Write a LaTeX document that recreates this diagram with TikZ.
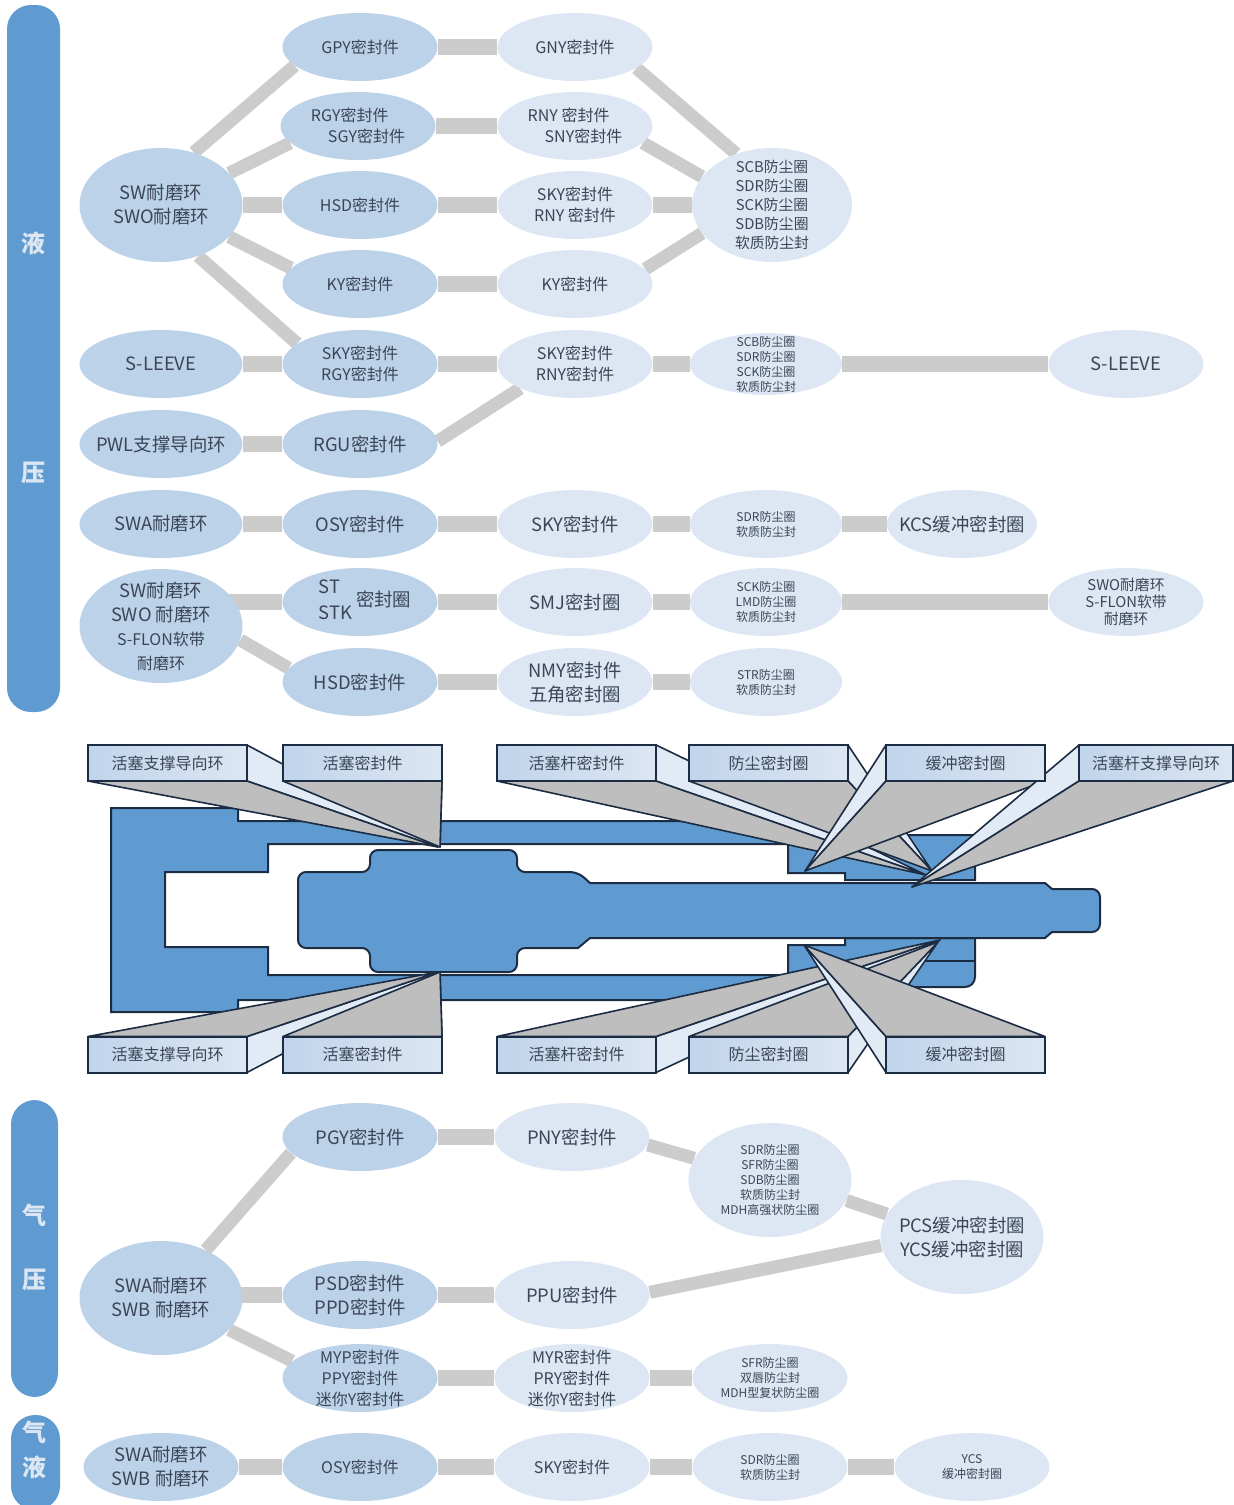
\documentclass[tikz,border=0pt]{standalone}
\usepackage{fontspec}
\setmainfont{Noto Sans CJK SC}
\usepackage{tikz}
\usetikzlibrary{shapes.geometric, backgrounds}
\definecolor{barblue}{RGB}{95, 155, 209}
\definecolor{sealdark}{RGB}{188, 210, 233}
\definecolor{sealpale}{RGB}{221, 231, 243}
\definecolor{linkgrey}{RGB}{204, 204, 204}
\definecolor{inkcolor}{RGB}{58, 70, 86}
\definecolor{frameink}{RGB}{28, 44, 66}
\definecolor{hoodgrey}{RGB}{190, 190, 190}
\definecolor{sidepale}{RGB}{226, 234, 245}
\definecolor{tagleft}{RGB}{192, 212, 235}
\definecolor{tagright}{RGB}{220, 230, 243}

\begin{document}
\begin{tikzpicture}[
    x=0.5pt, y=-0.5pt,
    seal/.style={ellipse, inner sep=-8pt, align=center, text=inkcolor, minimum width=77.5pt, minimum height=34pt},
    dark/.style={seal, fill=sealdark},
    pale/.style={seal, fill=sealpale},
    tall/.style={minimum width=81.5pt, minimum height=57pt},
    bigtxt/.style={font=\fontsize{9.2}{12}\selectfont},
    midtxt/.style={font=\fontsize{8}{10.5}\selectfont},
    listtxt/.style={font=\fontsize{7.4}{9.5}\selectfont},
    smalltxt/.style={font=\fontsize{6}{7.5}\selectfont},
    bar/.style={rectangle, fill=barblue, rounded corners=12pt},
    bartxt/.style={text=sealpale, font=\fontsize{12}{14}\bfseries\selectfont},
    tag/.style={rectangle, draw=frameink, line width=1pt, left color=tagleft, right color=tagright, text=inkcolor, minimum width=79.5pt, minimum height=18pt, inner sep=0pt, outer sep=0pt, font=\fontsize{8}{10}\selectfont},
    link/.style={linkgrey, line width=8pt},
    slant/.style={linkgrey, line width=6.5pt},
    hood/.style={draw=frameink, fill=hoodgrey, line width=0.8pt, line join=round},
    side/.style={draw=frameink, fill=sidepale, line width=0.8pt, line join=round},
    steel/.style={draw=frameink, fill=barblue, line width=1pt}
    ]
    \useasboundingbox (0,0) rectangle (1233,1505);

    % Side bars
    \node[bar, minimum width=26.5pt, minimum height=353.5pt] (barhyd) at (33.5,358.5) {};
    \node[bartxt] (hyda) at (33,243) {液};
    \node[bartxt] (hydb) at (33,473) {压};
    \node[bar, minimum width=23.5pt, minimum height=148.5pt] (barair) at (34.5,1248.5) {};
    \node[bartxt] (aira) at (34,1215) {气};
    \node[bartxt] (airb) at (34,1280) {压};
    \node[bar, minimum width=24.5pt, minimum height=47.5pt] (barmix) at (35.5,1462.5) {};
    \node[bartxt] (mixa) at (35,1432) {气};
    \node[bartxt] (mixb) at (35,1467) {液};

    % Hydraulic seals
    \node[dark, tall, bigtxt] (sw) at (161,205) {SW耐磨环\\SWO耐磨环};
    \node[dark, midtxt] (gpy) at (360,47) {GPY密封件};
    \node[pale, midtxt] (gny) at (575,47) {GNY密封件};
    \node[dark, midtxt, align=left] (rgy) at (358,126) {RGY密封件\\\hspace*{8.5pt}SGY密封件};
    \node[pale, midtxt, align=left] (rny) at (575,126) {RNY 密封件\\\hspace*{8.5pt}SNY密封件};
    \node[dark, midtxt] (hsd) at (360,205) {HSD密封件};
    \node[pale, midtxt] (skyrny) at (575,205) {SKY密封件\\RNY 密封件};
    \node[dark, midtxt] (ky) at (360,284) {KY密封件};
    \node[pale, midtxt] (kyb) at (575,284) {KY密封件};
    \node[pale, tall, listtxt, minimum width=80pt] (wipea) at (772,205) {SCB防尘圈\\SDR防尘圈\\SCK防尘圈\\SDB防尘圈\\软质防尘封};

    \node[dark, bigtxt, minimum width=81.5pt] (sleevea) at (161,364) {S-LEEVE};
    \node[dark, midtxt] (skyb) at (360,364) {SKY密封件\\RGY密封件};
    \node[pale, midtxt] (skyc) at (575,364) {SKY密封件\\RNY密封件};
    \node[pale, smalltxt, minimum width=76pt, minimum height=31pt] (wipeb) at (766,364) {SCB防尘圈\\SDR防尘圈\\SCK防尘圈\\软质防尘封};
    \node[pale, bigtxt] (sleeveb) at (1126,364) {S-LEEVE};
    \node[dark, bigtxt, minimum width=81.5pt] (pwl) at (161,444) {PWL支撑导向环};
    \node[dark, bigtxt] (rgu) at (360,444) {RGU密封件};

    \node[dark, bigtxt, minimum width=81.5pt] (swa) at (161,524) {SWA耐磨环};
    \node[dark, bigtxt] (osy) at (360,524) {OSY密封件};
    \node[pale, bigtxt] (skyd) at (575,524) {SKY密封件};
    \node[pale, smalltxt, minimum width=76pt] (wipec) at (766,524) {SDR防尘圈\\软质防尘封};
    \node[pale, bigtxt, minimum width=75pt] (kcs) at (962,524) {KCS缓冲密封圈};

    \node[dark, tall, bigtxt] (swb) at (161,626) {SW耐磨环\\SWO 耐磨环\\{\fontsize{8}{10.5}\selectfont S-FLON软带}\\{\fontsize{8}{10.5}\selectfont 耐磨环}};
    \node[dark, bigtxt] (stk) at (360,602) {\hspace*{5pt}\begin{tabular}{@{}l@{}}ST\\[1pt]STK\end{tabular} 密封圈};
    \node[pale, bigtxt] (smj) at (575,602) {SMJ密封圈};
    \node[pale, smalltxt, minimum width=76pt] (wiped) at (766,602) {SCK防尘圈\\LMD防尘圈\\软质防尘封};
    \node[pale, font=\fontsize{7.4}{8.4}\selectfont] (swo) at (1126,602) {SWO耐磨环\\S-FLON软带\\耐磨环};
    \node[dark, bigtxt] (hsdb) at (360,682) {HSD密封件};
    \node[pale, bigtxt] (nmy) at (575,682) {NMY密封件\\五角密封圈};
    \node[pale, smalltxt, minimum width=76pt] (wipee) at (766,682) {STR防尘圈\\软质防尘封};

    % Pneumatic seals
    \node[dark, tall, bigtxt] (swc) at (161,1298) {SWA耐磨环\\SWB 耐磨环};
    \node[dark, bigtxt] (pgy) at (360,1137) {PGY密封件};
    \node[pale, bigtxt] (pny) at (572,1137) {PNY密封件};
    \node[pale, tall, smalltxt] (wipef) at (770,1180) {SDR防尘圈\\SFR防尘圈\\SDB防尘圈\\软质防尘封\\MDH高强状防尘圈};
    \node[pale, tall, bigtxt] (pcs) at (962,1237) {PCS缓冲密封圈\\YCS缓冲密封圈};
    \node[dark, bigtxt] (psd) at (360,1295) {PSD密封件\\PPD密封件};
    \node[pale, bigtxt] (ppu) at (572,1295) {PPU密封件};
    \node[dark, midtxt] (myp) at (360,1378) {MYP密封件\\PPY密封件\\迷你Y密封件};
    \node[pale, midtxt] (myr) at (572,1378) {MYR密封件\\PRY密封件\\迷你Y密封件};
    \node[pale, smalltxt] (wipeg) at (770,1378) {SFR防尘圈\\双唇防尘封\\MDH型复状防尘圈};

    % Gas and liquid seals
    \node[dark, bigtxt] (swd) at (161,1467) {SWA耐磨环\\SWB 耐磨环};
    \node[dark, midtxt] (osyb) at (360,1467) {OSY密封件};
    \node[pale, midtxt] (skye) at (572,1467) {SKY密封件};
    \node[pale, smalltxt] (wipeh) at (770,1467) {SDR防尘圈\\软质防尘封};
    \node[pale, smalltxt] (ycs) at (972,1467) {YCS\\缓冲密封圈};

    % Tags above and below the cylinder
    \node[tag] (ta) at (167.5,763) {活塞支撑导向环};
    \node[tag] (tb) at (362.5,763) {活塞密封件};
    \node[tag] (tc) at (576.5,763) {活塞杆密封件};
    \node[tag] (td) at (768.5,763) {防尘密封圈};
    \node[tag] (te) at (965.5,763) {缓冲密封圈};
    \node[tag, minimum width=77pt] (tf) at (1156,763) {活塞杆支撑导向环};
    \node[tag] (ba) at (167.5,1054.5) {活塞支撑导向环};
    \node[tag] (bb) at (362.5,1054.5) {活塞密封件};
    \node[tag] (bc) at (576.5,1054.5) {活塞杆密封件};
    \node[tag] (bd) at (768.5,1054.5) {防尘密封圈};
    \node[tag] (be) at (965.5,1054.5) {缓冲密封圈};

    % Callout tips
    \coordinate (tipa) at (438,847);
    \coordinate (tipb) at (440,847);
    \coordinate (tipc) at (926,875);
    \coordinate (tipd) at (932,871);
    \coordinate (tipe) at (805,871);
    \coordinate (tipf) at (912,887);
    \coordinate (tipg) at (438,972);
    \coordinate (tiph) at (440,972);
    \coordinate (tipi) at (940,940);
    \coordinate (tipj) at (938,942);
    \coordinate (tipk) at (804,945);

    \begin{scope}[on background layer]
      % Links
      \foreach \a/\b in {gpy/gny, rgy/rny, hsd/skyrny, ky/kyb, skyrny/wipea, sw/hsd,
          sleevea/skyb, skyb/skyc, skyc/wipeb, wipeb/sleeveb, pwl/rgu,
          swa/osy, osy/skyd, skyd/wipec, wipec/kcs,
          stk/smj, smj/wiped, wiped/swo, hsdb/nmy, nmy/wipee,
          pgy/pny, psd/ppu, myp/myr, myr/wipeg,
          swd/osyb, osyb/skye, skye/wipeh, wipeh/ycs} {
        \draw[link] (\a) -- (\b);
      }
      \draw[link] (swb |- stk) -- (stk);
      \draw[link] (swc |- psd) -- (psd);
      \draw[slant] (sw.58) -- (gpy.196);
      \draw[slant] (sw.25) -- (rgy.194);
      \draw[slant] (sw.335) -- (ky.167);
      \draw[slant] (sw.306) -- (skyb.162);
      \draw[slant] (gny.341) -- (wipea.125);
      \draw[slant] (rny.346) -- (wipea.158);
      \draw[slant] (kyb.12) -- (wipea.202);
      \draw[slant] (rgu.2) -- (skyc.204);
      \draw[slant] (swb.350) -- (hsdb.169);
      \draw[slant] (swc.47) -- (pgy.193);
      \draw[slant] (swc.335) -- (myp.166);
      \draw[slant] (pny.354) -- (wipef.164);
      \draw[slant] (wipef.345) -- (pcs.163);
      \draw[slant] (ppu.2) -- (pcs.186);

      % Cylinder barrel
      \draw[steel] (111,808) -- (238,808) -- (238,821) -- (840,821) -- (840,835) -- (975,835)
        -- (975,880) -- (845,880) -- (845,873) -- (788,873) -- (788,844) -- (268,844)
        -- (268,872) -- (165,872) -- (165,947) -- (268,947) -- (268,975) -- (788,975)
        -- (788,945) -- (845,945) -- (845,938) -- (975,938)
        [rounded corners=5pt] -- (975,987) -- (850,987) [sharp corners] -- (850,1000)
        -- (238,1000) -- (238,1012) -- (111,1012) -- cycle;
      \draw[frameink, line width=1pt] (880,961) -- (975,961);

      % Piston and rod
      \draw[steel, rounded corners=4pt] (298,910) -- (298,872) -- (370,872) -- (370,850) -- (517,850)
        -- (517,872) -- (578,872) [sharp corners] -- (590,883) -- (1045,883) -- (1052,889)
        [rounded corners=4pt] -- (1100,889) -- (1100,932) [sharp corners] -- (1052,932) -- (1045,938)
        -- (590,938) -- (578,948) [rounded corners=4pt] -- (517,948)
        -- (517,972) -- (370,972) -- (370,948) -- (298,948) -- cycle;

      % Callouts
      \foreach \tg/\tp/\sd in {ta/tipa/east, tb/tipb/east, tc/tipc/east, td/tipd/east, te/tipe/west, tf/tipf/west} {
        \draw[side] (\tg.north \sd) -- (\tg.south \sd) -- (\tp) -- cycle;
        \draw[hood] (\tg.south west) -- (\tg.south east) -- (\tp) -- cycle;
      }
      \foreach \tg/\tp/\sd in {ba/tipg/east, bb/tiph/east, bc/tipi/east, bd/tipj/east, be/tipk/west} {
        \draw[side] (\tg.south \sd) -- (\tg.north \sd) -- (\tp) -- cycle;
        \draw[hood] (\tg.north west) -- (\tg.north east) -- (\tp) -- cycle;
      }
    \end{scope}
  \end{tikzpicture}
\end{document}
